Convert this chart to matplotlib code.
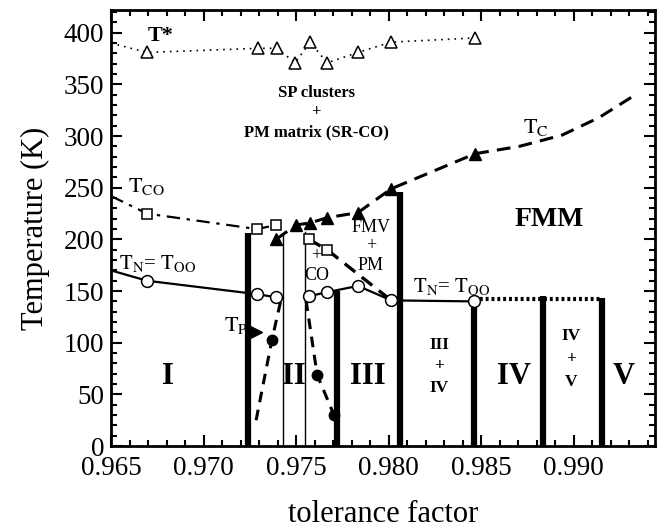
import matplotlib
matplotlib.use("Agg")
import matplotlib.pyplot as plt
from matplotlib.ticker import MultipleLocator, FormatStrFormatter

plt.rcParams['font.family'] = ['Liberation Serif', 'DejaVu Serif']
plt.rcParams['mathtext.fontset'] = 'stix'

# T* (open triangles, dotted)
tstar_x = [0.96695, 0.97295, 0.97397, 0.97495, 0.97576, 0.97668, 0.97835, 0.98014, 0.98468]
tstar_y = [381, 385, 385, 371, 391, 371, 381, 391, 395]
tstar_start = (0.965, 390)

# T_CO (open squares)
tco_x = [0.96695, 0.97290, 0.97392]
tco_y = [225, 210, 214]
tco_start = (0.965, 242)
tco2_x = [0.97570, 0.97668]
tco2_y = [200, 190]
tco2_end = (0.98014, 141)

# T_N = T_OO (open circles)
tn_x = [0.96695, 0.97290, 0.97392]
tn_y = [160, 147, 144]
tn_start = (0.965, 170)
tn2_x = [0.97570, 0.97668, 0.97835, 0.98014, 0.98462]
tn2_y = [145, 149, 155, 141, 140]
too_dot_x = [0.98462, 0.99154]
too_dot_y = [142, 142]

# T_C (filled triangles, dashed)
tc_x = [0.97392, 0.97500, 0.97576, 0.97668, 0.97835, 0.98014, 0.98468]
tc_y = [200, 214, 216, 221, 226, 249, 283]
tc_tail_x = [0.98468, 0.98705, 0.98938, 0.99138, 0.99316]
tc_tail_y = [283, 290, 301, 318, 338]

# T_P (filled circles, dashed)
tp_left_x = [0.97284, 0.97370, 0.97424]
tp_left_y = [25, 103, 146]
tp_right_x = [0.97554, 0.97614, 0.97705]
tp_right_y = [141, 69, 30]
tp_marker = (0.97284, 110)

# phase boundaries
thick_x = [0.97240, 0.97722, 0.98060, 0.98462, 0.98835, 0.99154]
thick_top = [206, 150, 246, 141, 145, 143]
thin_x = [0.97430, 0.97549]
thin_top = [204, 207]

fig = plt.figure(figsize=(6.66, 5.31), dpi=100)
ax = fig.add_axes([0.1667, 0.160, 0.8168, 0.821])

for x, t in zip(thick_x, thick_top):
    ax.plot([x, x], [0, t], color='black', lw=4.5, solid_capstyle='butt', zorder=2)
for x, t in zip(thin_x, thin_top):
    ax.plot([x, x], [0, t], color='black', lw=1.0, zorder=2)

ax.plot([tstar_start[0]] + tstar_x, [tstar_start[1]] + tstar_y, color='black', lw=1.2,
        ls=(0, (1, 3)))
ax.plot(tstar_x, tstar_y, ls='none', marker='^', ms=9, mfc='white', mec='black', mew=1.1)

ax.plot([tco_start[0]] + tco_x, [tco_start[1]] + tco_y, color='black', lw=1.6,
        ls=(0, (6, 3, 1.5, 3)), zorder=3)
ax.plot(tco2_x + [tco2_end[0]], tco2_y + [tco2_end[1]], color='black', lw=2.4,
        ls=(0, (4, 2.5)), zorder=3)
ax.plot(tco_x + tco2_x, tco_y + tco2_y, ls='none', marker='s', ms=7.5, mfc='white',
        mec='black', mew=1.1, zorder=5)

ax.plot([tn_start[0]] + tn_x, [tn_start[1]] + tn_y, color='black', lw=1.6, zorder=3)
ax.plot(tn2_x, tn2_y, color='black', lw=1.6, zorder=3)
ax.plot(too_dot_x, too_dot_y, color='black', lw=3, ls=(0, (0.7, 0.7)), zorder=3)
ax.plot(tn_x + tn2_x, tn_y + tn2_y, ls='none', marker='o', ms=8.5, mfc='white',
        mec='black', mew=1.1, zorder=5)

ax.plot(tc_x, tc_y, color='black', lw=2.2, ls=(0, (4.5, 2.7)), zorder=3)
ax.plot(tc_tail_x, tc_tail_y, color='black', lw=2.2, ls=(0, (4.5, 2.7)), zorder=3)
ax.plot(tc_x, tc_y, ls='none', marker='^', ms=9, color='black', zorder=5)

ax.plot(tp_left_x, tp_left_y, color='black', lw=2.2, ls=(0, (3.5, 2.5)), zorder=3)
ax.plot(tp_right_x, tp_right_y, color='black', lw=2.2, ls=(0, (3.5, 2.5)), zorder=3)
ax.plot([tp_left_x[1], tp_right_x[1], tp_right_x[2]], [tp_left_y[1], tp_right_y[1], tp_right_y[2]],
        ls='none', marker='o', ms=7.5, color='black', zorder=5)
ax.plot([tp_marker[0]], [tp_marker[1]], ls='none', marker='>', ms=9, color='black', zorder=5)

# labels
ax.text(0.9677, 397, 'T*', fontsize=16, fontweight='bold', ha='center', va='center')
ax.text(0.97608, 342, 'SP clusters', fontsize=12, fontweight='bold', ha='center', va='center')
ax.text(0.97608, 323, '+', fontsize=12, fontweight='bold', ha='center', va='center')
ax.text(0.97608, 304, 'PM matrix (SR-CO)', fontsize=12, fontweight='bold', ha='center', va='center')
ax.text(0.98797, 308, r'$\mathrm{T_C}$', fontsize=16, ha='center', va='center')
ax.text(0.96689, 251, r'$\mathrm{T_{CO}}$', fontsize=16, ha='center', va='center')
ax.text(0.96754, 177, r'$\mathrm{T_N}$= $\mathrm{T_{OO}}$', fontsize=15, ha='center', va='center')
ax.text(0.98343, 154, r'$\mathrm{T_N}$= $\mathrm{T_{OO}}$', fontsize=15, ha='center', va='center')
ax.text(0.97176, 117, r'$\mathrm{T_P}$', fontsize=16, ha='center', va='center')
ax.text(0.98868, 219, 'FMM', fontsize=20, fontweight='bold', ha='center', va='center')
ax.text(0.97905, 212, 'FMV', fontsize=13, ha='center', va='center')
ax.text(0.97905, 194, '+', fontsize=13, ha='center', va='center')
ax.text(0.97905, 175, 'PM', fontsize=13, ha='center', va='center')
ax.text(0.97608, 184, '+', fontsize=13, ha='center', va='center')
ax.text(0.97614, 165, 'CO', fontsize=13, ha='center', va='center')

big = dict(fontsize=22, fontweight='bold', ha='center', va='center')
small = dict(fontsize=12.5, fontweight='bold', ha='center', va='center')
ax.text(0.96808, 67, 'I', **big)
ax.text(0.97489, 67, 'II', **big)
ax.text(0.97889, 67, 'III', **big)
ax.text(0.98678, 67, 'IV', **big)
ax.text(0.99273, 67, 'V', **big)
ax.text(0.98273, 98, 'III', **small)
ax.text(0.98273, 77, '+', **small)
ax.text(0.98273, 56, 'IV', **small)
ax.text(0.98986, 107, 'IV', **small)
ax.text(0.98986, 84, '+', **small)
ax.text(0.98986, 62, 'V', **small)

ax.set_xlim(0.965, 0.9944)
ax.set_ylim(0, 422)
ax.xaxis.set_major_locator(MultipleLocator(0.005))
ax.xaxis.set_minor_locator(MultipleLocator(0.001))
ax.xaxis.set_major_formatter(FormatStrFormatter('%.3f'))
ax.yaxis.set_major_locator(MultipleLocator(50))
ax.yaxis.set_minor_locator(MultipleLocator(10))
ax.tick_params(which='both', direction='in', top=True, right=True, width=1.5, labelsize=19.5)
ax.tick_params(which='major', length=8)
ax.tick_params(which='minor', length=4)
ax.tick_params(axis='x', pad=7)
ax.tick_params(axis='y', pad=5)
for s in ax.spines.values():
    s.set_linewidth(2)
ax.set_xlabel('tolerance factor', fontsize=22, labelpad=14)
ax.set_ylabel('Temperature (K)', fontsize=22, labelpad=10)

fig.savefig('out.png', dpi=100)
